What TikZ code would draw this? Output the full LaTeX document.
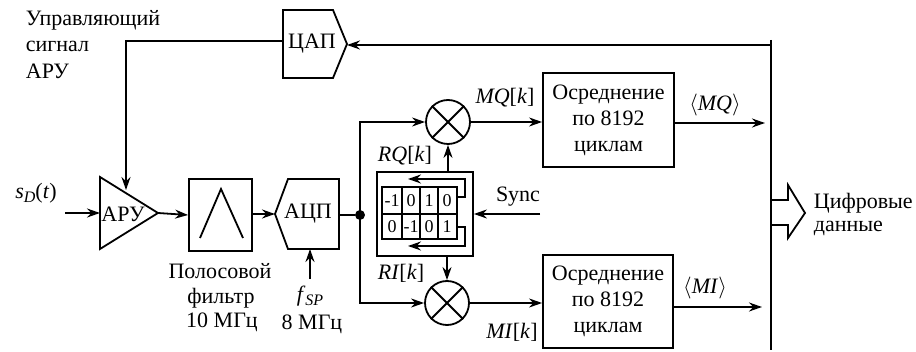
\documentclass[tikz,border=0pt]{standalone}
\usepackage{fix-cm}
\usepackage{fontspec}
\setmainfont{Liberation Serif}
\usetikzlibrary{arrows.meta}
\newcommand{\lowtext}[1]{\raisebox{-4pt}{\fontsize{16}{16}\selectfont\textit{#1}}}
\tikzset{every path/.style={line width=1.8pt}, >={Stealth[length=13pt,width=9pt]},
  every node/.style={font=\fontsize{22}{26}\selectfont, inner sep=0pt, align=center},
  blockbox/.style={draw, rectangle},
  mixer/.style={draw, circle, minimum size=44pt},
  cellnum/.style={font=\fontsize{18}{20}\selectfont}}

\begin{document}
\begin{tikzpicture}[x=1pt,y=-1pt]
   \useasboundingbox (0,0) rectangle (916,352);
   \fill[white] (0,0) rectangle (916,352);
   % data bus
   \coordinate (bustop) at (771,40);
   \coordinate (busbot) at (771,350);
   \draw (bustop) -- (busbot);
   % control loop
   \draw (283,10) -- (333,10) -- (347,44) -- (333,78) -- (283,78) -- cycle;
   \node (dac) at (312,44) {ЦАП};
   \coordinate (dacin) at (347,45);
   \coordinate (dacout) at (283,41);
   \coordinate (buslink) at (771,45);
   \coordinate (agctop) at (126,190);
   \draw[->] (buslink) -- (dacin);
   \draw[->] (dacout) -- (126,41) -- (agctop);
   \node (ctrl1) at (25,20) [anchor=west] {Управляющий};
   \node (ctrl2) at (25,46) [anchor=west] {сигнал};
   \node (ctrl3) at (25,71) [anchor=west] {АРУ};
   % receive chain
   \draw (100,177) -- (158,213) -- (100,249) -- cycle;
   \node (agc) at (123,214) {АРУ};
   \coordinate (agcin) at (100,213);
   \coordinate (agcout) at (158,213);
   \coordinate (srcin) at (65,213);
   \draw[->] (srcin) -- (agcin);
   \node (src) at (36,193) {\textit{s}\lowtext{D}(\textit{t})};
   \node[blockbox, minimum width=63pt, minimum height=72pt] (bpf) at (220.5,215) {};
   \draw (200,238) -- (221,189) -- (243,238);
   \draw[->] (agcout) -- (bpf.west);
   \node (bpf1) at (220,271) {Полосовой};
   \node (bpf2) at (221,298) {фильтр};
   \node (bpf3) at (222,322) {10 МГц};
   \draw (275,214) -- (288,179) -- (339,179) -- (339,249) -- (288,249) -- cycle;
   \node (adc) at (308,214) {АЦП};
   \coordinate (adcin) at (275,214);
   \coordinate (adcout) at (339,215);
   \coordinate (adcclk) at (310,249);
   \coordinate (clkin) at (310,279);
   \draw[->] (bpf.east |- adcin) -- (adcin);
   \draw[->] (clkin) -- (adcclk);
   \node (fsp) at (310,296) {\textit{f}\lowtext{SP}};
   \node (fsp2) at (312,324) {8 МГц};
   % split into the two branches
   \node[draw, circle, fill=black, minimum size=8pt] (dot) at (360,215) {};
   \draw (adcout) -- (dot);
   \node[mixer] (mixq) at (448,122) {};
   \node[mixer] (mixi) at (447,303) {};
   \draw (mixq.45) -- (mixq.225);
   \draw (mixq.135) -- (mixq.315);
   \draw (mixi.45) -- (mixi.225);
   \draw (mixi.135) -- (mixi.315);
   \draw[->] (dot.center) -- (360,122) -- (mixq.west);
   \draw[->] (dot.center) -- (360,303) -- (mixi.west);
   % reference generator
   \node[blockbox, minimum width=96pt, minimum height=84pt] (gen) at (425,214) {};
   \draw[line width=2.2pt] (382,187) rectangle (457,239);
   \draw (382,214) -- (457,214);
   \draw (402,187) -- (402,239);
   \draw (420,187) -- (420,239);
   \draw (438,187) -- (438,239);
   \node[cellnum] (q1) at (392,201) {-1};
   \node[cellnum] (q2) at (411,201) {0};
   \node[cellnum] (q3) at (429,201) {1};
   \node[cellnum] (q4) at (447,201) {0};
   \node[cellnum] (i1) at (392,227) {0};
   \node[cellnum] (i2) at (411,227) {-1};
   \node[cellnum] (i3) at (429,227) {0};
   \node[cellnum] (i4) at (447,227) {1};
   \draw[->] (457,197) -- (465,197) -- (465,179) -- (408,179);
   \draw[->] (457,227) -- (465,227) -- (465,246) -- (408,246);
   \draw[->] (gen.north -| mixq) -- (mixq.south);
   \draw[->] (gen.south -| mixi) -- (mixi.north);
   \coordinate (syncin) at (540,214);
   \draw[->] (syncin) -- (gen.east);
   \node (sync) at (518,197) {Sync};
   \node (rq) at (405,156) {\textit{RQ}[\textit{k}]};
   \node (ri) at (401,273) {\textit{RI}[\textit{k}]};
   % averaging
   \node[blockbox, minimum width=131pt, minimum height=94pt] (avgq) at (608.5,120) {Осреднение\\по 8192\\циклам};
   \node[blockbox, minimum width=130pt, minimum height=93pt] (avgi) at (608,301.5) {Осреднение\\по 8192\\циклам};
   \draw[->] (mixq.east) -- (avgq.west |- mixq.east);
   \draw[->] (mixi.east) -- (avgi.west |- mixi.east);
   \node (mq) at (505,98) {\textit{MQ}[\textit{k}]};
   \node (mi) at (512,332) {\textit{MI}[\textit{k}]};
   \coordinate (qout) at (765,123);
   \coordinate (iout) at (762,307);
   \draw[->] (avgq.east |- qout) -- (qout);
   \draw[->] (avgi.east |- iout) -- (iout);
   \node (mqavg) at (715,105) {$\langle$\textit{MQ}$\rangle$};
   \node (miavg) at (705,288) {$\langle$\textit{MI}$\rangle$};
   % output arrow
   \draw (771,200) -- (788,200) -- (788,185) -- (805,213) -- (788,238) -- (788,225) -- (771,225);
   \node (out1) at (813,203) [anchor=west] {Цифровые};
   \node (out2) at (813,228) [anchor=west] {данные};
\end{tikzpicture}
\end{document}
